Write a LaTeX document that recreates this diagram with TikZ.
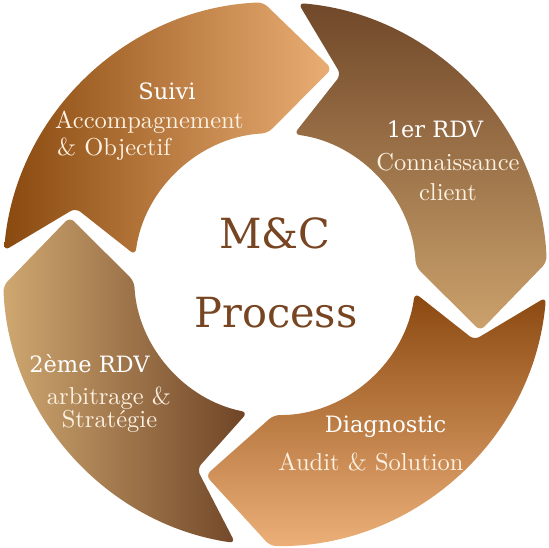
\documentclass[tikz,border=0pt]{standalone}
\usepackage{fontspec}
\newfontfamily\titlefont{DejaVu Serif}
\newfontfamily\subfont[Extension=.otf]{lmroman10-regular}
\definecolor{suiviA}{HTML}{8A4A0F}
\definecolor{suiviB}{HTML}{EAAE74}
\definecolor{rdvA}{HTML}{714829}
\definecolor{rdvB}{HTML}{CBA26C}
\definecolor{diagA}{HTML}{8A4810}
\definecolor{diagB}{HTML}{ECB078}
\definecolor{deuxA}{HTML}{CFA770}
\definecolor{deuxB}{HTML}{6E4426}
\definecolor{centre}{HTML}{774522}
\definecolor{cream}{HTML}{FDF1E2}
\begin{document}
\begin{tikzpicture}[x=1pt,y=1pt,
  seg/.style 2 args={rounded corners=6pt, insert path={
    ({175.1+#2}:272pt) arc[start angle={175.1+#2}, end angle={92.5+#1}, radius=272pt]
    -- ({74.5+#1}:213pt) -- ({93+#1}:141pt)
    arc[start angle={93+#1}, end angle={172.3+#2}, radius=141pt]
    -- ({161.7+#2}:210pt) -- cycle}},
  ttl/.style={font=\titlefont\fontsize{22.5}{27}\selectfont, text=white, anchor=base, inner sep=0pt},
  sub/.style={font=\subfont\fontsize{24.5}{29}\selectfont, text=cream, anchor=base, inner sep=0pt},
  mid/.style={font=\titlefont\fontsize{41.5}{50}\selectfont, text=centre, anchor=base, inner sep=0pt}]
\useasboundingbox (-275,-273) rectangle (274,274);
\shade[left color=suiviA, right color=suiviB, seg={0}{0}];
\shade[top color=rdvA, bottom color=rdvB, seg={-90}{-90}];
\shade[top color=diagA, bottom color=diagB, seg={-183.5}{-180}];
\shade[left color=deuxA, right color=deuxB, seg={90}{86.5}];
% Suivi
\node[ttl] (t1) at (-108,175) {Suivi};
\node[sub, anchor=base west] (s1a) at (-220,146) {Accompagnement};
\node[sub, anchor=base west] (s1b) at (-218,119) {\& Objectif};
% 1er RDV
\node[ttl] (t2) at (160,137) {1er RDV};
\node[sub] (s2a) at (173,104) {Connaissance};
\node[sub] (s2b) at (173,74) {client};
% centre
\node[mid] (m1) at (0,26) {M\&C};
\node[mid] (m2) at (1,-53) {Process};
% 2eme RDV
\node[ttl] (t4) at (-185.5,-98) {2ème RDV};
\node[sub] (s4a) at (-166,-130) {arbitrage \&};
\node[sub] (s4b) at (-165.5,-153.5) {Stratégie};
% Diagnostic
\node[ttl] (t3) at (110.5,-158) {Diagnostic};
\node[sub] (s3a) at (96,-196) {Audit \& Solution};
\end{tikzpicture}
\end{document}
